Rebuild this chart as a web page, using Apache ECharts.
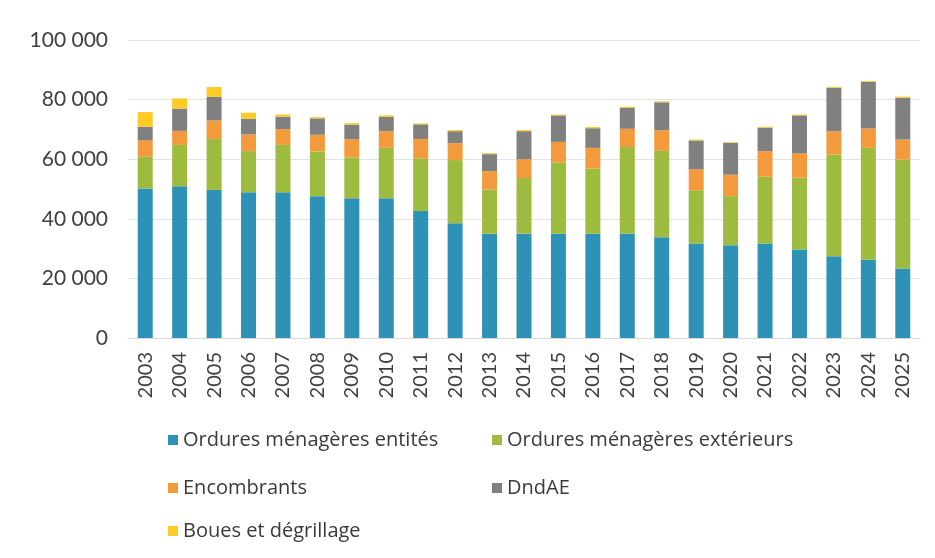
<!DOCTYPE html>
<html><head><meta charset="utf-8">
<script src="https://cdn.jsdelivr.net/npm/echarts@6/dist/echarts.min.js"></script>
<style>html,body{margin:0;padding:0;background:#fff}#c{width:935px;height:558px}</style>
</head><body><div id="c"></div>
<script>
const years = ['2003','2004','2005','2006','2007','2008','2009','2010','2011','2012','2013','2014','2015','2016','2017','2018','2019','2020','2021','2022','2023','2024','2025'];
const omEntites   = [50200,50900,49700,48900,48900,47600,46900,46900,42600,38500,35000,35000,35000,35000,35000,33800,31700,31100,31700,29700,27400,26300,23300];
const omExterieurs= [10600,13900,17100,13800,15900,15000,13700,16900,17700,21200,14800,18700,23900,21900,29100,29000,17900,16500,22400,24100,34200,37500,36600];
const encombrants = [5500,4700,6200,5600,5300,5600,6100,5600,6500,5700,6200,6300,6900,6900,6100,6900,7000,7200,8600,8100,7800,6500,6700];
const dndae       = [4600,7500,7900,5300,4200,5500,4900,4800,4900,4000,5700,9400,8900,6600,7000,9400,9700,10700,7900,12800,14600,15600,14000];
const boues       = [4900,3400,3300,2000,700,400,500,500,300,400,300,400,300,400,400,300,300,200,300,300,300,300,400];
const seriesNames = ['Ordures ménagères entités','Ordures ménagères extérieurs','Encombrants','DndAE','Boues et dégrillage'];
const yMin = 0, yMax = 100000, yStep = 20000;

const colors = ['#2E92B6','#9DBB3E','#F39A3C','#808080','#FFC926'];
const font = 'Lato, "Open Sans", sans-serif';
const fmt = v => String(v).replace(/\B(?=(\d{3})+(?!\d))/g, ' ');
const dataSets = [omEntites, omExterieurs, encombrants, dndae, boues];

const legendPos = [
  {left:163, top:425}, {left:487, top:425},
  {left:163, top:473}, {left:487, top:473},
  {left:163, top:516}
];

const chart = echarts.init(document.getElementById('c'));
chart.setOption({
  animation:false,
  color: colors,
  grid:{left:128, right:15, top:40, bottom:220, containLabel:false},
  legend: seriesNames.map((n,i)=>({
    data:[n], left:legendPos[i].left, top:legendPos[i].top,
    itemWidth:10, itemHeight:10, itemGap:6, icon:'rect',
    textStyle:{fontFamily:'"Open Sans", Lato, sans-serif', fontSize:20, color:'#3a3a3a'}
  })),
  xAxis:{
    type:'category', data:years,
    axisTick:{show:false},
    axisLine:{lineStyle:{color:'#d9d9d9'}},
    axisLabel:{rotate:90, fontFamily:font, fontSize:20, color:'#404040', margin:14}
  },
  yAxis:{
    type:'value', min:yMin, max:yMax, interval:yStep,
    axisLine:{show:false}, axisTick:{show:false},
    splitLine:{lineStyle:{color:'#e3e3e3'}},
    axisLabel:{fontFamily:font, fontSize:21, color:'#404040', margin:20, formatter:fmt}
  },
  series: seriesNames.map((n,i)=>({
    name:n, type:'bar', stack:'total', barWidth:15, data:dataSets[i]
  }))
});
</script></body></html>
